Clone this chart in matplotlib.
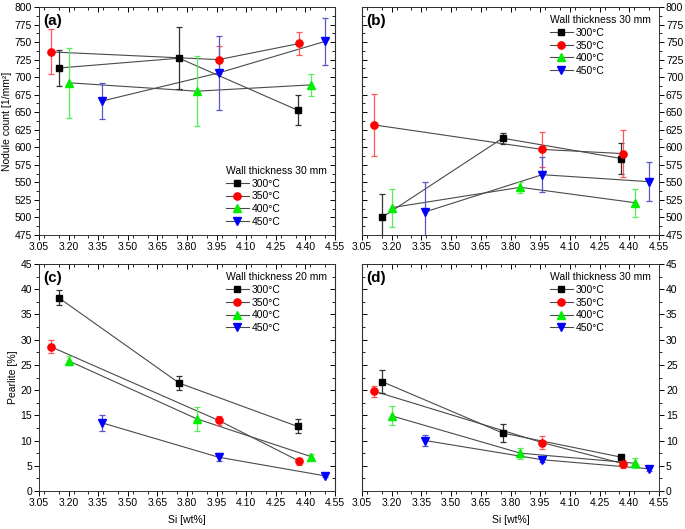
import matplotlib
matplotlib.use("Agg")
import matplotlib.pyplot as plt
from matplotlib.ticker import MultipleLocator, FixedLocator
from matplotlib.lines import Line2D

plt.rcParams['font.family'] = ['Liberation Sans', 'DejaVu Sans']
plt.rcParams['font.size'] = 7.5

# ---------------- data ----------------
temps = ["300°C", "350°C", "400°C", "450°C"]
si_300 = [3.15, 3.76, 4.36]
si_350 = [3.11, 3.96, 4.37]
si_400 = [3.20, 3.85, 4.43]
si_450 = [3.37, 3.96, 4.50]

# (a) nodule count
a_300 = [713, 727, 653]; a_300_err = [26, 44, 21]
a_350 = [736, 725, 748]; a_350_err = [32, 20, 16]
a_400 = [692, 680, 689]; a_400_err = [50, 50, 16]
a_450 = [666, 706, 751]; a_450_err = [25, 53, 33]

# (b) nodule count
b_300 = [500, 613, 584]; b_300_err = [33, 8, 22]
b_350 = [632, 597, 591]; b_350_err = [44, 25, 33]
b_400 = [514, 543, 521]; b_400_err = [27, 8, 20]
b_450 = [508, 561, 551]; b_450_err = [42, 25, 28]

# (c) pearlite
c_300 = [38.3, 21.4, 12.8]; c_300_err = [1.5, 1.4, 1.4]
c_350 = [28.6, 14.0, 5.9]; c_350_err = [1.3, 0.9, 0.7]
c_400 = [25.8, 14.3, 6.8]; c_400_err = [0.9, 2.4, 0.5]
c_450 = [13.5, 6.7, 3.0]; c_450_err = [1.6, 0.8, 0.3]

# (d) pearlite
d_300 = [21.7, 11.5, 6.7]; d_300_err = [2.3, 1.7, 0.5]
d_350 = [19.8, 9.6, 5.4]; d_350_err = [1.1, 1.3, 0.8]
d_400 = [14.9, 7.5, 5.5]; d_400_err = [1.9, 1.1, 1.0]
d_450 = [10.0, 6.2, 4.4]; d_450_err = [1.1, 0.4, 0.4]

panel_titles = ["(a)", "(b)", "(c)", "(d)"]
legend_titles = ["Wall thickness 30 mm", "Wall thickness 30 mm",
                 "Wall thickness 20 mm", "Wall thickness 30 mm"]
x_ticks = [3.05, 3.20, 3.35, 3.50, 3.65, 3.80, 3.95, 4.10, 4.25, 4.40, 4.55]

# ---------------- style ----------------
marker_colors = ["#000000", "#ff0000", "#00ee00", "#0000ff"]
err_colors = ["#333333", "#ff5555", "#55ee55", "#5555cc"]
markers = ["s", "o", "^", "v"]
msizes = [4.5, 5.2, 5.6, 5.6]
line_color = "#4a4a4a"

W, H = 685, 529
fig = plt.figure(figsize=(W / 100, H / 100), dpi=100)

def fx(px):
    return px / W

def fy(top, bottom):
    return 1 - bottom / H, (bottom - top) / H

ax_pos = {
    "a": (39, 7, 335, 235),
    "b": (362, 7, 659, 235),
    "c": (39, 264, 335, 491),
    "d": (362, 264, 659, 491),
}

panels = [
    ("a", [a_300, a_350, a_400, a_450], [a_300_err, a_350_err, a_400_err, a_450_err]),
    ("b", [b_300, b_350, b_400, b_450], [b_300_err, b_350_err, b_400_err, b_450_err]),
    ("c", [c_300, c_350, c_400, c_450], [c_300_err, c_350_err, c_400_err, c_450_err]),
    ("d", [d_300, d_350, d_400, d_450], [d_300_err, d_350_err, d_400_err, d_450_err]),
]
si_all = [si_300, si_350, si_400, si_450]

for i, (key, ys, errs) in enumerate(panels):
    l, t, r, b = ax_pos[key]
    bottom, height = fy(t, b)
    ax = fig.add_axes([fx(l), bottom, fx(r - l), height])
    right_side = key in ("b", "d")
    top_row = key in ("a", "b")

    for j in range(4):
        ax.plot(si_all[j], ys[j], color=line_color, lw=0.8, zorder=2)
        ax.errorbar(si_all[j], ys[j], yerr=errs[j], fmt="none",
                    ecolor=err_colors[j], elinewidth=0.9, capsize=2.5,
                    capthick=0.9, zorder=3)
        ax.plot(si_all[j], ys[j], linestyle="none", marker=markers[j],
                markersize=msizes[j], color=marker_colors[j],
                markeredgecolor=marker_colors[j], zorder=4)

    ax.set_xlim(3.05, 4.55)
    ax.xaxis.set_major_locator(FixedLocator(x_ticks))
    ax.xaxis.set_minor_locator(MultipleLocator(0.075))
    ax.set_xticklabels([f"{v:.2f}" for v in x_ticks])
    if top_row:
        ax.set_ylim(475, 800)
        ax.yaxis.set_major_locator(MultipleLocator(25))
        ax.yaxis.set_minor_locator(MultipleLocator(12.5))
    else:
        ax.set_ylim(0, 45)
        ax.yaxis.set_major_locator(MultipleLocator(5))
        ax.yaxis.set_minor_locator(MultipleLocator(2.5))

    ax.tick_params(which="major", direction="out", length=3.5, width=0.7,
                   labelsize=7.5, pad=1.5)
    ax.tick_params(which="minor", direction="out", length=2, width=0.6)
    if right_side:
        ax.yaxis.tick_right()
        ax.yaxis.set_label_position("right")
    for sp in ax.spines.values():
        sp.set_linewidth(0.7)
        sp.set_color("#333333")

    # mirrored inward ticks
    secx = ax.secondary_xaxis("top")
    secx.xaxis.set_major_locator(FixedLocator(x_ticks))
    secx.xaxis.set_minor_locator(MultipleLocator(0.075))
    secx.tick_params(which="major", direction="in", length=3.5, width=0.7, labeltop=False)
    secx.tick_params(which="minor", direction="in", length=2, width=0.6)
    secx.spines["top"].set_linewidth(0.7)
    secy = ax.secondary_yaxis("left" if right_side else "right")
    if top_row:
        secy.yaxis.set_major_locator(MultipleLocator(25))
        secy.yaxis.set_minor_locator(MultipleLocator(12.5))
    else:
        secy.yaxis.set_major_locator(MultipleLocator(5))
        secy.yaxis.set_minor_locator(MultipleLocator(2.5))
    secy.tick_params(which="major", direction="in", length=3.5, width=0.7,
                     labelleft=False, labelright=False)
    secy.tick_params(which="minor", direction="in", length=2, width=0.6)

    ax.text(0.015, 0.97, panel_titles[i], transform=ax.transAxes,
            fontsize=11, fontweight="bold", va="top", ha="left")

    handles = [Line2D([], [], color=line_color, lw=0.8, marker=markers[j],
                      markersize=msizes[j], markerfacecolor=marker_colors[j],
                      markeredgecolor=marker_colors[j]) for j in range(4)]
    loc = "lower right" if key == "a" else "upper right"
    leg = ax.legend(handles, temps, title=legend_titles[i], loc=loc,
                    frameon=False, fontsize=7.5, title_fontsize=7.5,
                    handlelength=2.2, handletextpad=0.3, labelspacing=0.25,
                    borderaxespad=0.4, alignment="left")

    if key == "a":
        ax.set_ylabel("Nodule count [1/mm²]", fontsize=7.5, labelpad=2)
    if key == "c":
        ax.set_ylabel("Pearlite [%]", fontsize=7.5, labelpad=2)
    if not top_row:
        ax.set_xlabel("Si [wt%]", fontsize=7.5, labelpad=5)

fig.savefig("out.png", dpi=100)
